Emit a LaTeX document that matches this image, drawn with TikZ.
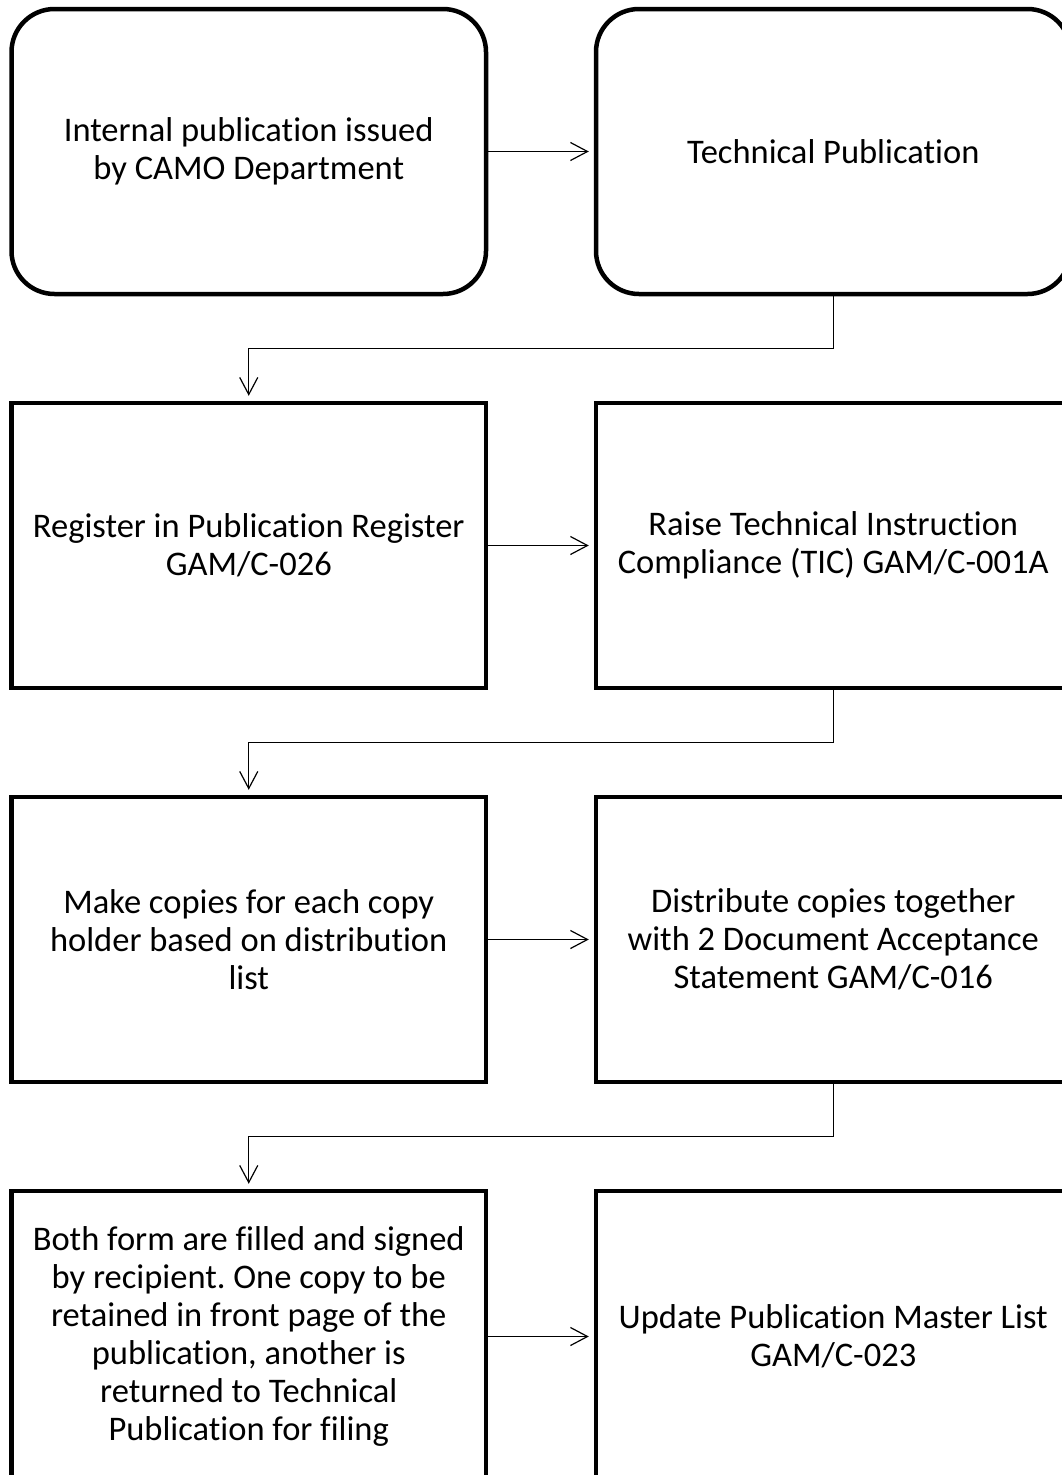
\documentclass[tikz,border=0pt]{standalone}
\usepackage{fontspec}
\setmainfont{Carlito}[Ligatures=NoCommon]
\usetikzlibrary{arrows.meta,calc}
\frenchspacing
\begin{document}
\begin{tikzpicture}[x=1pt,y=-1pt,
  box/.style={draw, line width=4.5pt, minimum width=474.5pt, minimum height=285pt, align=center, font=\fontsize{34.5}{38}\selectfont, inner sep=0pt},
  rbox/.style={box, rounded corners=43pt},
  conn/.style={line width=1.2pt, -{Straight Barb[length=17pt,width=18pt]}, shorten >=5pt}]
\useasboundingbox (0,0) rectangle (1062,1475);
\node[rbox] (ip) at (248.75,151.5) {Internal publication issued\\by CAMO Department};
\node[rbox] (tp) at (833.25,151.5) {Technical Publication};
\node[box] (reg) at (248.75,545.5) {Register in Publication Register\\GAM/C-026};
\node[box] (tic) at (833.25,545.5) {Raise Technical Instruction\\Compliance (TIC) GAM/C-001A};
\node[box] (cop) at (248.75,939.5) {Make copies for each copy\\holder based on distribution\\list};
\node[box] (dis) at (833.25,939.5) {Distribute copies together\\with 2 Document Acceptance\\Statement GAM/C-016};
\node[box, minimum height=291pt] (fil) at (248.75,1336.5) {Both form are filled and signed\\by recipient. One copy to be\\retained in front page of the\\publication, another is\\returned to Technical\\Publication for filing};
\node[box, minimum height=291pt] (upd) at (833.25,1336.5) {Update Publication Master List\\GAM/C-023};
\draw[conn] (ip.east) -- (tp.west);
\draw[conn] (reg.east) -- (tic.west);
\draw[conn] (cop.east) -- (dis.west);
\draw[conn] (fil.east) -- (fil.east -| upd.west);
\draw[conn] (tp.south) -- ($(tp.south)!0.5!(tp.south|-reg.north)$) -| (reg.north);
\draw[conn] (tic.south) -- ($(tic.south)!0.5!(tic.south|-cop.north)$) -| (cop.north);
\draw[conn] (dis.south) -- ($(dis.south)!0.5!(dis.south|-fil.north)$) -| (fil.north);
\end{tikzpicture}
\end{document}
